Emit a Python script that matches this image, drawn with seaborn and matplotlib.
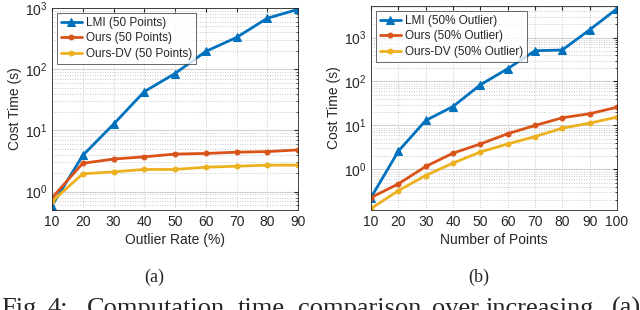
import numpy as np
import pandas as pd
import matplotlib
matplotlib.use("Agg")
import matplotlib.pyplot as plt
import seaborn as sns
from matplotlib.ticker import LogLocator, NullFormatter

# values
outlier_rate = [10, 20, 30, 40, 50, 60, 70, 80, 90]
lmi_a = [0.59, 3.9, 12.6, 43, 85, 195, 330, 680, 950]
ours_a = [0.79, 2.9, 3.4, 3.7, 4.1, 4.2, 4.4, 4.5, 4.8]
oursdv_a = [0.69, 1.95, 2.1, 2.3, 2.3, 2.5, 2.6, 2.7, 2.7]

n_points = [10, 20, 30, 40, 50, 60, 70, 80, 90, 100]
lmi_b = [0.23, 2.6, 13, 27, 84, 195, 500, 520, 1500, 4500]
ours_b = [0.23, 0.47, 1.17, 2.35, 3.8, 6.5, 10, 15, 18.5, 26]
oursdv_b = [0.13, 0.33, 0.73, 1.4, 2.5, 3.8, 5.6, 8.7, 11.3, 15.5]

# caption is justified in the paper, so each word gets its own x
caption_words = ["Fig.", "4:", "Computation", "time", "comparison", "over", "increasing", "(a)"]
caption_x = [1, 47, 87, 238, 298, 432, 485, 612]

sns.set_style("white")
plt.rcParams['font.family'] = ['Liberation Sans', 'DejaVu Sans']

colors = ["#0072BD", "#D95319", "#EDB120"]
markers = ["^", "o", "o"]
msizes = [6, 3.5, 3.5]

fig = plt.figure(figsize=(6.4, 3.1), dpi=100)
ax1 = fig.add_axes([52 / 640, 1 - 210 / 310, 246 / 640, 202 / 310])
ax2 = fig.add_axes([371 / 640, 1 - 210 / 310, 246 / 640, 204 / 310])


def panel(ax, x, series, labels, xlabel, ylim, xticks, yticks):
    for ys, lab, c, m, ms in zip(series, labels, colors, markers, msizes):
        df = pd.DataFrame({"x": x, "y": ys})
        sns.lineplot(data=df, x="x", y="y", ax=ax, color=c, marker=m,
                     markersize=ms, markeredgecolor=c, linewidth=2, label=lab)
    ax.set_yscale("log")
    ax.set_xlim(x[0], x[-1])
    ax.set_ylim(*ylim)
    ax.set_xticks(xticks)
    ax.set_yticks(yticks)
    ax.yaxis.set_minor_locator(LogLocator(base=10, subs=np.arange(2, 10), numticks=20))
    ax.yaxis.set_minor_formatter(NullFormatter())
    ax.grid(True, which="major", axis="y", color="#d0d0d0", linewidth=0.8, linestyle="-")
    ax.grid(True, which="minor", axis="y", color="#b8b8b8", linewidth=0.6, linestyle=(0, (1, 2)))
    ax.grid(True, which="major", axis="x", color="#b8b8b8", linewidth=0.6, linestyle=(0, (1, 2)))
    ax.set_axisbelow(True)
    ax.tick_params(which="both", direction="in", labelsize=10, colors="#262626",
                   top=True, right=True)
    ax.tick_params(which="major", length=3)
    ax.tick_params(which="minor", length=1.5)
    for s in ax.spines.values():
        s.set_color("#262626")
        s.set_linewidth(0.6)
    ax.set_xlabel(xlabel, fontsize=10, color="#262626", labelpad=3)
    ax.set_ylabel("Cost Time (s)", fontsize=10, color="#262626", labelpad=2)
    leg = ax.legend(loc="upper left", fontsize=8.5, frameon=True, fancybox=False,
                    handlelength=1.8, borderpad=0.35, labelspacing=0.3,
                    handletextpad=0.3, borderaxespad=0.4)
    leg.get_frame().set_edgecolor("#262626")
    leg.get_frame().set_linewidth(0.6)


panel(ax1, outlier_rate, [lmi_a, ours_a, oursdv_a],
      ["LMI (50 Points)", "Ours (50 Points)", "Ours-DV (50 Points)"],
      "Outlier Rate (%)", (0.5, 1000), outlier_rate, [1, 10, 100, 1000])
panel(ax2, n_points, [lmi_b, ours_b, oursdv_b],
      ["LMI (50% Outlier)", "Ours (50% Outlier)", "Ours-DV (50% Outlier)"],
      "Number of Points", (0.12, 5200), n_points, [1, 10, 100, 1000])

serif = ['Liberation Serif', 'DejaVu Serif']
fig.text(154 / 640, 1 - 277 / 310, "(a)", ha="center", va="center", fontsize=13, family=serif)
fig.text(479 / 640, 1 - 277 / 310, "(b)", ha="center", va="center", fontsize=13, family=serif)
for w, xp in zip(caption_words, caption_x):
    fig.text(xp / 640, -5 / 310, w, ha="left", va="baseline", fontsize=19, family=serif)

fig.savefig("out.png", dpi=100)
